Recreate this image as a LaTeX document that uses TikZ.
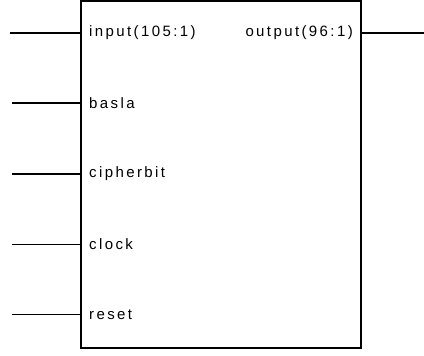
\documentclass[tikz,border=0pt]{standalone}
\usepackage{fontspec}
\newfontfamily\pinfont[LetterSpace=16]{Liberation Sans}
\usetikzlibrary{positioning}

\begin{document}
\begin{tikzpicture}[x=1pt, y=-1pt, every node/.style={font=\pinfont\fontsize{15}{17}\selectfont}, block/.style={draw, line width=1.6pt, minimum width=280pt, minimum height=347pt, inner sep=0pt}, lbl/.style={inner sep=0pt}, wire/.style={line width=1.1pt}, bus/.style={line width=2.8pt}]
\useasboundingbox (0,0) rectangle (424,356);
\node[block] (blk) at (221,174.5) {};
% pins
\coordinate (wIn) at (10,33);
\coordinate (wBa) at (12,103);
\coordinate (wCi) at (12,174);
\coordinate (wCl) at (12,244.5);
\coordinate (wRe) at (12,314.5);
\coordinate (wOut) at (424,33);
\node[lbl, anchor=west] (tIn) at (89,33) {input(105:1)};
\node[lbl, anchor=west] (tBa) at (89,103) {basla};
\node[lbl, anchor=west] (tCi) at (89,174) {cipherbit};
\node[lbl, anchor=west] (tCl) at (89,244.5) {clock};
\node[lbl, anchor=west] (tRe) at (89,314.5) {reset};
\node[lbl, anchor=east] (tOut) at (353,33) {output(96:1)};
\draw[bus] (wIn) -- (wIn -| blk.west);
\draw[wire] (wBa) -- (wBa -| blk.west);
\draw[wire] (wCi) -- (wCi -| blk.west);
\draw[wire] (wCl) -- (wCl -| blk.west);
\draw[wire] (wRe) -- (wRe -| blk.west);
\draw[bus] (wOut -| blk.east) -- (wOut);
\end{tikzpicture}
\end{document}
